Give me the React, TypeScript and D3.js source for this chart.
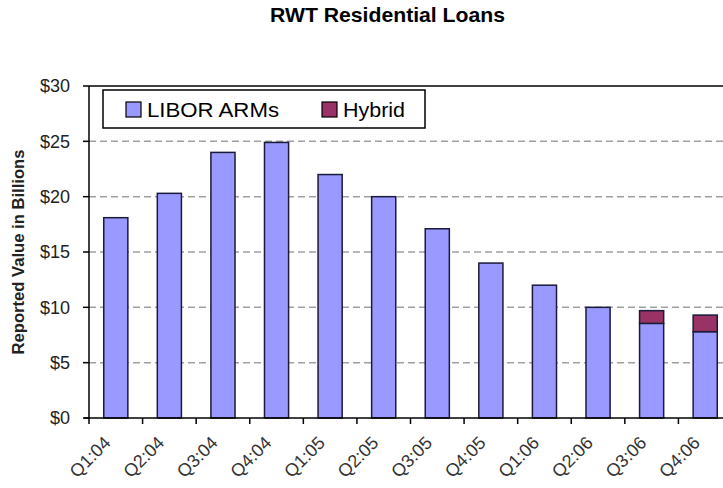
import React from "react";
import * as d3 from "d3";

const categories = ["Q1:04","Q2:04","Q3:04","Q4:04","Q1:05","Q2:05","Q3:05","Q4:05","Q1:06","Q2:06","Q3:06","Q4:06"];
const liborArms = [18.1, 20.3, 24.0, 24.9, 22.0, 20.0, 17.1, 14.0, 12.0, 10.0, 8.55, 7.8];
const hybrid = [0, 0, 0, 0, 0, 0, 0, 0, 0, 0, 1.15, 1.5];
const yTicks = [0, 5, 10, 15, 20, 25, 30];
const seriesNames = ["LIBOR ARMs", "Hybrid"];
const seriesColors = ["#9999ff", "#993366"];

const W = 723, H = 488;
const left = 89, right = 732, top = 86, bottom = 418;

export default function App() {
  const x = d3.scaleBand<string>().domain(categories).range([left, right]).paddingInner(0.55).paddingOuter(0.275);
  const xTick = d3.scaleBand<string>().domain(categories).range([left, right]);
  const y = d3.scaleLinear().domain([0, 30]).range([bottom, top]);
  const font = "Liberation Sans, Arial, sans-serif";
  const stacked = d3.stack<any>().keys(["libor", "hybrid"])(categories.map((c, i) => ({ c, libor: liborArms[i], hybrid: hybrid[i] })));

  return (
    <svg width={W} height={H} style={{ position: "absolute", left: 0, top: 0, background: "#fff" }} fontFamily={font}>
      <text x={270} y={22} fontSize={21} fontWeight="bold" textLength={235} lengthAdjust="spacingAndGlyphs" fill="#000">RWT Residential Loans</text>
      {yTicks.filter(t => t > 0 && t < 30).map(t => (
        <line key={t} x1={left} x2={W} y1={y(t)} y2={y(t)} stroke="#a0a0a0" strokeWidth={1.5} strokeDasharray="7,4" />
      ))}
      {stacked.map((s, si) => s.map((d, i) => d[1] - d[0] > 0 ? (
        <rect key={si + "-" + i} x={x(categories[i])!} width={x.bandwidth()} y={y(d[1])} height={y(d[0]) - y(d[1])}
          fill={seriesColors[si]} stroke="#1a1a3a" strokeWidth={1.5} />
      ) : null))}
      <line x1={left} x2={W} y1={top} y2={top} stroke="#000" strokeWidth={1.5} />
      <line x1={left} x2={left} y1={top} y2={bottom} stroke="#000" strokeWidth={1.5} />
      <line x1={left - 5} x2={W} y1={bottom} y2={bottom} stroke="#000" strokeWidth={1.5} />
      {yTicks.map(t => (
        <g key={t}>
          <line x1={left - 6} x2={left} y1={y(t)} y2={y(t)} stroke="#000" strokeWidth={1.5} />
          <text x={70} y={y(t)} dy="0.36em" textAnchor="end" fontSize={18} fill="#222">{"$" + t}</text>
        </g>
      ))}
      {categories.map((c, i) => (
        <line key={c} x1={xTick(c)!} x2={xTick(c)!} y1={bottom} y2={bottom + 6} stroke="#000" strokeWidth={1.5} />
      ))}
      {categories.map(c => {
        const cx = xTick(c)! + xTick.bandwidth() / 2 - 4;
        const cy = bottom + 26;
        return (
          <text key={c} x={cx} y={cy} textAnchor="end" fontSize={18} fill="#333" transform={`rotate(-45,${cx},${cy})`}>{c}</text>
        );
      })}
      <text transform="translate(24,252) rotate(-90)" textAnchor="middle" fontSize={16} fontWeight="bold" textLength={205} lengthAdjust="spacingAndGlyphs" fill="#222">Reported Value in Billions</text>
      <rect x={103} y={90} width={322} height={38} fill="#fff" stroke="#000" strokeWidth={1.5} />
      <rect x={126} y={102} width={15} height={15} fill={seriesColors[0]} stroke="#000" strokeWidth={1.2} />
      <text x={147} y={117} fontSize={21} textLength={132} lengthAdjust="spacingAndGlyphs" fill="#000">{seriesNames[0]}</text>
      <rect x={322} y={102} width={15} height={15} fill={seriesColors[1]} stroke="#000" strokeWidth={1.2} />
      <text x={343} y={117} fontSize={21} textLength={62} lengthAdjust="spacingAndGlyphs" fill="#000">{seriesNames[1]}</text>
    </svg>
  );
}
